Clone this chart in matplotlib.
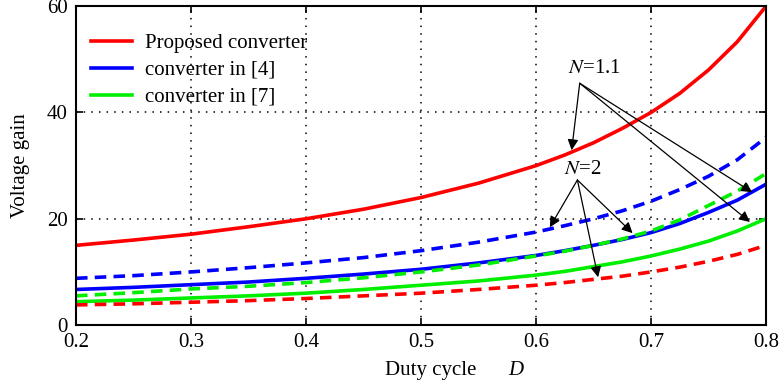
import matplotlib.pyplot as plt

plt.rcParams['font.family'] = ['Liberation Serif', 'DejaVu Serif']
plt.rcParams['mathtext.fontset'] = 'stix'

duty = [0.2, 0.25, 0.3, 0.35, 0.4, 0.45, 0.5, 0.55, 0.6, 0.625, 0.65, 0.675,
        0.7, 0.725, 0.75, 0.775, 0.8]

# N = 1.1 (solid)
proposed_n11 = [15, 16, 17.1, 18.5, 20, 21.8, 24, 26.7, 30, 32, 34.3, 37, 40, 43.6, 48, 53.3, 60]
ref4_n11 = [6.7, 7.1, 7.6, 8.1, 8.8, 9.6, 10.5, 11.7, 13.1, 14, 15, 16.1, 17.4, 19.1, 21.2, 23.5, 26.5]
ref7_n11 = [4.4, 4.7, 5.1, 5.5, 6.0, 6.7, 7.5, 8.3, 9.4, 10.1, 11, 11.9, 13, 14.3, 15.8, 17.7, 20]

# N = 2 (dashed)
proposed_n2 = [3.8, 4.0, 4.3, 4.6, 5.0, 5.5, 6.0, 6.7, 7.5, 8.0, 8.6, 9.2, 10, 10.9, 12, 13.3, 15]
ref4_n2 = [8.8, 9.3, 10, 10.8, 11.7, 12.7, 14, 15.6, 17.5, 18.7, 20, 21.5, 23.3, 25.5, 28, 31.1, 35.3]
ref7_n2 = [5.5, 6.1, 6.8, 7.3, 8.0, 8.9, 10, 11.3, 13, 13.9, 15, 16.2, 17.7, 19.8, 22.5, 25.2, 28.5]

labels = ['Proposed converter', 'converter in [4]', 'converter in [7]']
colors = ['#ff0000', '#0000ff', '#00ee00']

fig = plt.figure(figsize=(7.81, 3.87), dpi=100)
ax = fig.add_axes([0.0973, 0.160, 0.8835, 0.824])

dash = (3.2, 2)
for ys, c, lab in zip([proposed_n11, ref4_n11, ref7_n11], colors, labels):
    ax.plot(duty, ys, color=c, lw=2.6, label=lab)
for ys, c in zip([proposed_n2, ref4_n2, ref7_n2], colors):
    ax.plot(duty, ys, color=c, lw=2.6, linestyle=(0, dash))

ax.set_xlim(0.2, 0.8)
ax.set_ylim(0, 60)
ax.set_xticks([0.2, 0.3, 0.4, 0.5, 0.6, 0.7, 0.8])
ax.set_xticklabels(['0.2', '0.3', '0.4', '0.5', '0.6', '0.7', '0.8'])
ax.set_yticks([0, 20, 40, 60])
ax.tick_params(direction='in', top=True, right=True, labelsize=15, length=5, width=1.2)
ax.tick_params(axis='x', pad=6)
ax.tick_params(axis='y', pad=6)
ax.grid(True, linestyle=(0, (1, 4)), color='k', lw=1.1)
for s in ax.spines.values():
    s.set_linewidth(1.5)

ax.legend(loc='upper left', bbox_to_anchor=(0.0, 0.96), frameon=False, fontsize=15,
          handlelength=2.0, labelspacing=0.35, borderaxespad=0.3, handletextpad=0.6)

ax.set_ylabel('Voltage gain', fontsize=15)
ax.yaxis.set_label_coords(-0.066, 0.5)
fig.text(0.493, 0.03, 'Duty cycle', fontsize=15)
fig.text(0.651, 0.03, 'D', fontsize=15, style='italic')

arrow = dict(arrowstyle='-|>', color='k', lw=0.9, mutation_scale=16, shrinkA=0, shrinkB=0)
ax.text(0.651, 48.3, r'$N$=1.1', fontsize=15, ha='center', va='center')
for tgt in [(0.631, 32.9), (0.788, 25.0), (0.786, 19.4)]:
    ax.annotate('', xy=tgt, xytext=(0.638, 45.5), arrowprops=arrow)
ax.text(0.641, 29.3, r'$N$=2', fontsize=15, ha='center', va='center')
for tgt in [(0.612, 18.4), (0.684, 17.3), (0.654, 9.0)]:
    ax.annotate('', xy=tgt, xytext=(0.636, 27.3), arrowprops=arrow)

plt.savefig('out.png', dpi=100)
